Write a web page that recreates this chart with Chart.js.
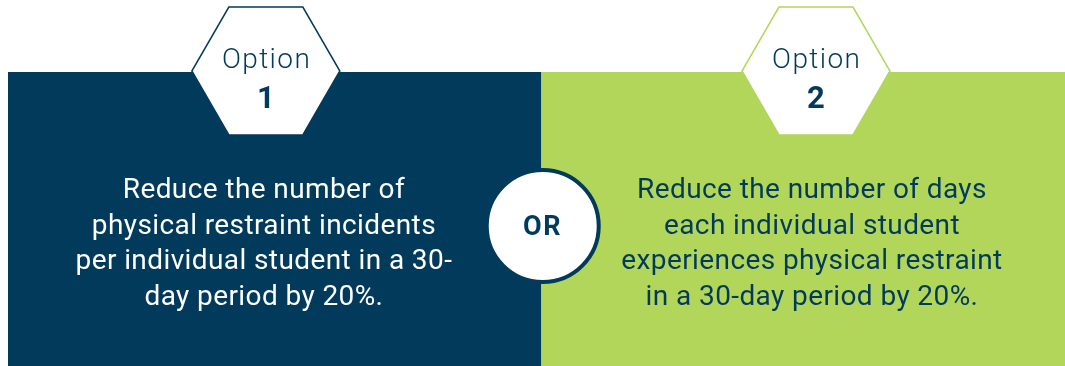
<!DOCTYPE html>
<html>
<head>
<meta charset="utf-8">
<script src="https://cdn.jsdelivr.net/npm/chart.js@4.4.1/dist/chart.umd.min.js"></script>
<style>
html,body{margin:0;padding:0;background:#ffffff;}
#wrap{width:1065px;height:366px;position:relative;}
</style>
</head>
<body>
<div id="wrap"><canvas id="c" width="1065" height="366"></canvas></div>
<script>
// ---- data ----
const categories = ['Options'];
const seriesNames = ['Option', 'Option'];
const optionNumbers = ['1', '2'];
const panelShares = [50.4, 49.6];          // share of width of each panel
const option1Text = ['Reduce the number of', 'physical restraint incidents', 'per individual student in a 30-', 'day period by 20%.'];
const option2Text = ['Reduce the number of days', 'each individual student', 'experiences physical restraint', 'in a 30-day period by 20%.'];
const separatorLabel = 'OR';

// ---- styles ----
const NAVY = '#023a5c';
const GREEN = '#b2d65a';
const FONT = 'Roboto, "Open Sans", sans-serif';

const bodyTexts = [option1Text, option2Text];
const textColors = ['#ffffff', NAVY];
const hexStroke = [NAVY, GREEN];
const hexFrac = [0.484, 0.525];
const textFrac = [0.480, 0.517];

function drawSpacedText(ctx, txt, x, y, spacing) {
  ctx.save();
  try { ctx.letterSpacing = spacing + 'px'; } catch (e) {}
  ctx.fillText(txt, x + spacing / 2, y);
  ctx.restore();
}

const infographic = {
  id: 'infographic',
  afterDatasetsDraw(chart) {
    const ctx = chart.ctx;
    const area = chart.chartArea;
    const bars = [0, 1].map(i => chart.getDatasetMeta(i).data[0]);
    bars.forEach((bar, i) => {
      const left = Math.min(bar.base, bar.x);
      const right = Math.max(bar.base, bar.x);
      const w = right - left;
      const hx = left + w * hexFrac[i];
      const hy = area.top - 1;
      // hexagon
      ctx.save();
      ctx.beginPath();
      ctx.moveTo(hx - 37, hy - 64);
      ctx.lineTo(hx + 37, hy - 64);
      ctx.lineTo(hx + 74, hy);
      ctx.lineTo(hx + 37, hy + 64);
      ctx.lineTo(hx - 37, hy + 64);
      ctx.lineTo(hx - 74, hy);
      ctx.closePath();
      ctx.fillStyle = '#ffffff';
      ctx.fill();
      ctx.lineWidth = 1.5;
      ctx.strokeStyle = hexStroke[i];
      ctx.stroke();
      // option label
      ctx.fillStyle = NAVY;
      ctx.textAlign = 'center';
      ctx.textBaseline = 'alphabetic';
      ctx.font = '300 28px ' + FONT;
      drawSpacedText(ctx, seriesNames[i], hx, hy - 3, 1.4);
      ctx.font = '700 31px ' + FONT;
      drawSpacedText(ctx, optionNumbers[i], hx, hy + 37, 0);
      // body text
      const tx = left + w * textFrac[i];
      ctx.fillStyle = textColors[i];
      ctx.font = '400 28px ' + FONT;
      bodyTexts[i].forEach((line, k) => {
        drawSpacedText(ctx, line, tx, area.top + 126 + k * 35.7, 0.4);
      });
      ctx.restore();
    });
    // OR circle at the boundary
    const split = Math.max(bars[0].base, bars[0].x);
    const cy = area.top + 154;
    ctx.save();
    ctx.beginPath();
    ctx.arc(split + 2, cy, 56, 0, Math.PI * 2);
    ctx.fillStyle = '#ffffff';
    ctx.fill();
    ctx.lineWidth = 4;
    ctx.strokeStyle = NAVY;
    ctx.stroke();
    ctx.fillStyle = NAVY;
    ctx.textAlign = 'center';
    ctx.textBaseline = 'alphabetic';
    ctx.font = '700 27px ' + FONT;
    drawSpacedText(ctx, separatorLabel, split + 1, cy + 9, 1.5);
    ctx.restore();
  }
};

new Chart(document.getElementById('c'), {
  type: 'bar',
  data: {
    labels: categories,
    datasets: [
      { label: seriesNames[0] + ' ' + optionNumbers[0], data: [panelShares[0]], backgroundColor: NAVY, borderWidth: 0, barPercentage: 1, categoryPercentage: 1 },
      { label: seriesNames[1] + ' ' + optionNumbers[1], data: [panelShares[1]], backgroundColor: GREEN, borderWidth: 0, barPercentage: 1, categoryPercentage: 1 }
    ]
  },
  options: {
    indexAxis: 'y',
    responsive: false,
    animation: false,
    layout: { padding: { left: 8, top: 72, right: 0, bottom: 0 } },
    scales: {
      x: { stacked: true, min: 0, max: 100, display: false },
      y: { stacked: true, display: false }
    },
    plugins: { legend: { display: false }, tooltip: { enabled: false } }
  },
  plugins: [infographic]
});
</script>
</body>
</html>
